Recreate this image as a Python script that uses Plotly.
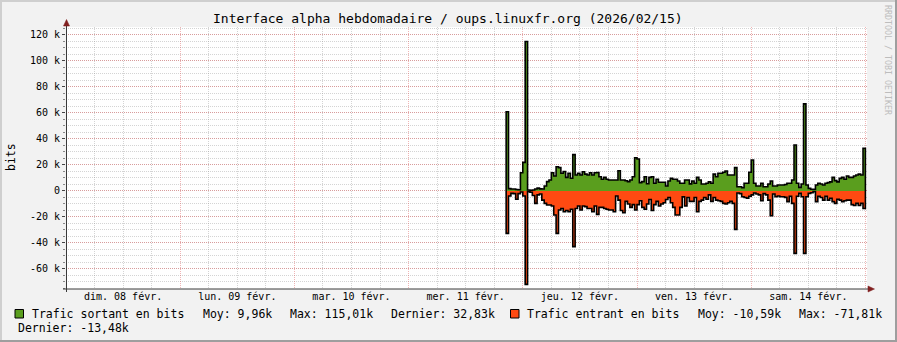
import plotly.graph_objects as go
from datetime import datetime, timedelta

# ---------------- data ----------------
title_text = "Interface alpha hebdomadaire / oups.linuxfr.org (2026/02/15)"
day_labels = ["dim. 08 févr.", "lun. 09 févr.", "mar. 10 févr.", "mer. 11 févr.",
              "jeu. 12 févr.", "ven. 13 févr.", "sam. 14 févr."]
y_tick_vals = [-60000, -40000, -20000, 0, 20000, 40000, 60000, 80000, 100000, 120000]
y_tick_text = ["-60 k", "-40 k", "-20 k", "0", "20 k", "40 k", "60 k", "80 k", "100 k", "120 k"]

series_start = datetime(2026, 2, 11, 20, 30)
step_minutes = 30

# outgoing traffic (k bits), 30 min samples
out_k = [61, 1.8, 1.5, 1.5, 1.2, 1.0, 14, 22, 115.01, 0.8,
         0.6, 0.8, 1.5, 2.2, 1.6, 1.5, 3.8, 7.2, 8.5, 14,
         11.5, 18.7, 18, 13.6, 15, 10.5, 13.6, 9.8, 28, 12.3,
         13.6, 12.3, 14.8, 13, 12.3, 14, 12.3, 14, 14.2, 11,
         9, 10.5, 9, 8.5, 8.5, 8.5, 8.5, 15.6, 8.5, 8.5,
         7.9, 7.2, 8.5, 11, 25.6, 24.6, 6.4, 7.2, 11, 5.6,
         10.5, 11, 5.9, 9, 6.7, 6.7, 6.7, 3.8, 7.7, 9.7,
         9, 9, 7.7, 5.9, 5.9, 8.5, 8.5, 5.5, 7.7, 6,
         10.5, 8.5, 5.4, 5.4, 5.9, 7, 5.9, 13, 11, 13.6,
         13.6, 14.4, 15.4, 12.3, 12.3, 12.3, 18, 3.3, 3.3, 2.5,
         5.9, 5.9, 14.4, 23.8, 5.9, 3.8, 3.8, 5.9, 3.3, 3.3,
         5.4, 7.7, 3.8, 3.8, 4.6, 4.6, 4.6, 5, 5.9, 6,
         8.5, 35.4, 5.9, 2.8, 5.4, 67, 4.6, 2, 1.3, 1.3,
         4.6, 5.9, 5.4, 4.6, 5.9, 6.4, 7, 10.5, 8, 7,
         9.7, 10.5, 9, 11.5, 10.5, 10.5, 11.5, 12.3, 13, 12.3,
         32.83]

# incoming traffic (k bits, drawn negative)
in_k = [-32.6, -3.8, -1.8, -2, -6.4, -2, -0.8, -3.8, -71.81, -0.5,
        -1, -3.5, -9.5, -3, -2.3, -7, -9.5, -10.8, -10.8, -11.5,
        -18.5, -32.6, -14.6, -13.5, -16, -15, -16, -14, -42.8, -13.5,
        -11.5, -14.6, -11.5, -12, -13.5, -13.5, -16, -11.5, -18, -12.6,
        -12.6, -13.5, -14, -14.6, -14.6, -16, -3.8, -7, -15, -16.7,
        -8, -10, -12.6, -10.5, -14.6, -10.5, -7.5, -12.6, -14, -10,
        -6.5, -15, -10.5, -8, -11.5, -10, -9, -6.5, -5, -9,
        -12.6, -18.5, -18.5, -12.6, -4.5, -11.5, -5, -8, -8, -5,
        -16, -8, -7, -5, -6.4, -3, -8, -5, -7, -7.5,
        -8, -9.5, -10, -9, -8, -9.5, -29.5, -1.5, -2, -4.4,
        -5, -5.5, -4, -3, -1.5, -2.3, -3, -7.5, -2, -3,
        -7, -19, -2.3, -4.4, -3.8, -4.4, -4.4, -4.9, -8.2, -4,
        -9.5, -48, -4, -1.8, -4.4, -48, -4.4, -1.8, -1.3, -0.5,
        -8.2, -4, -5, -7, -4, -7, -5.6, -8.2, -9.5, -6.4,
        -7, -8.2, -7.5, -7, -7, -10.5, -11.2, -9.5, -11.2, -9.5,
        -13.48]

legend_out = ["Trafic sortant en bits", "Moy: 9,96k", "Max: 115,01k", "Dernier: 32,83k"]
legend_in = ["Trafic entrant en bits", "Moy: -10,59k", "Max: -71,81k", "Dernier: -13,48k"]

green = "#5A9E1E"
orange = "#FF4A12"

# ---------------- geometry ----------------
W, H = 897, 342
L, R, T, B = 66, 30, 27, 53
PW = W - L - R
PH = H - T - B


def px(x):
    return (x - L) / PW


def py(y):
    return (H - B - y) / PH


x_start = datetime(2026, 2, 8)
x_end = x_start + timedelta(days=PW / 114.2)
y_min, y_max = -75400, 126150


def step_xy(vals):
    n = len(vals)
    times = [series_start + timedelta(minutes=step_minutes * i) for i in range(n)]
    t_end = series_start + timedelta(minutes=step_minutes * n)
    xs = [times[0]] + times + [t_end, t_end]
    ys = [0] + [v * 1000 for v in vals] + [vals[-1] * 1000, 0]
    return xs, ys


fig = go.Figure()
for vals, col, name, xa in [(out_k, green, legend_out[0], "x"), (in_k, orange, legend_in[0], "x2")]:
    xs, ys = step_xy(vals)
    fig.add_trace(go.Scatter(x=xs, y=ys, xaxis=xa, yaxis="y", mode="lines",
                             line=dict(shape="hv", color="black", width=1.6),
                             fill="tozeroy", fillcolor=col, name=name, showlegend=False, hoverinfo="skip"))

MONO = "DejaVu Sans Mono"
major_grid = "rgba(222,79,79,0.42)"
minor_grid = "rgba(143,143,143,0.38)"
noon_ticks = [x_start + timedelta(days=d, hours=12) for d in range(len(day_labels))]

fig.update_layout(
    width=W, height=H,
    margin=dict(l=L, r=R, t=T, b=B, pad=0),
    paper_bgcolor="#F2F2F2",
    plot_bgcolor="#FFFFFF",
    showlegend=False,
    font=dict(family=MONO, size=10, color="#000000"),
    xaxis=dict(
        type="date", range=[x_start, x_end], tick0=x_start, dtick=86400000,
        showgrid=True, gridcolor=major_grid, griddash="1px,1px", gridwidth=1,
        showticklabels=False, ticks="", showline=False, zeroline=False,
        minor=dict(dtick=6 * 3600000, tick0=x_start, showgrid=True, gridcolor=minor_grid,
                   griddash="1px,1px", gridwidth=1, ticks=""),
        fixedrange=True,
    ),
    xaxis2=dict(
        type="date", range=[x_start, x_end], overlaying="x", anchor="y", side="bottom",
        tickmode="array", tickvals=noon_ticks, ticktext=day_labels,
        showgrid=False, ticks="", showline=False, zeroline=False,
        tickfont=dict(family=MONO, size=10, color="#000000"), fixedrange=True,
    ),
    yaxis=dict(
        range=[y_min, y_max], tickmode="array", tickvals=y_tick_vals, ticktext=y_tick_text,
        showgrid=True, gridcolor=major_grid, griddash="1px,1px", gridwidth=1,
        ticks="outside", ticklen=3, tickcolor="#444444", tickwidth=1,
        minor=dict(dtick=5000, tick0=0, showgrid=True, gridcolor=minor_grid, griddash="1px,1px",
                   gridwidth=1, ticks="outside", ticklen=2, tickcolor="#888888"),
        showline=False, zeroline=False,
        tickfont=dict(family=MONO, size=10, color="#000000"), fixedrange=True,
    ),
)

shapes = []


def rect(x0, y0, x1, y1, fill, line=None, lw=0):
    shapes.append(dict(type="rect", xref="paper", yref="paper", x0=px(x0), x1=px(x1), y0=py(y0), y1=py(y1),
                       fillcolor=fill, line=dict(color=line or fill, width=lw), layer="above"))


def seg(x0, y0, x1, y1, col, w=1):
    shapes.append(dict(type="line", xref="paper", yref="paper", x0=px(x0), x1=px(x1), y0=py(y0), y1=py(y1),
                       line=dict(color=col, width=w), layer="above"))


# frame (3D border)
rect(0, 0, W, 2, "#CFCFCF")
rect(0, 0, 2, H, "#CFCFCF")
rect(0, H - 2, W, H, "#9E9E9E")
rect(W - 2, 0, W, H, "#9E9E9E")

# axes
seg(66.5, 292, 66.5, 24, "#3A3A3A")
seg(63, 289, 869, 289, "#3A3A3A")
shapes.append(dict(type="path", xref="paper", yref="paper", layer="above",
                   path=f"M {px(63.5)} {py(26)} L {px(69.5)} {py(26)} L {px(66.5)} {py(19.5)} Z",
                   fillcolor="#801F1F", line=dict(color="#801F1F", width=0.5)))
shapes.append(dict(type="path", xref="paper", yref="paper", layer="above",
                   path=f"M {px(868)} {py(286)} L {px(868)} {py(292)} L {px(874.5)} {py(289)} Z",
                   fillcolor="#801F1F", line=dict(color="#801F1F", width=0.5)))

# legend swatches
rect(15, 309.5, 23.5, 318, green, "#000000", 1)
rect(510.5, 309.5, 519, 318, orange, "#000000", 1)

fig.update_layout(shapes=shapes)

ann = []


def text(x, y, s, size=11.5, color="#000000", xanchor="left", angle=0):
    ann.append(dict(x=px(x), y=py(y), xref="paper", yref="paper", text=s, showarrow=False,
                    xanchor=xanchor, yanchor="middle", textangle=angle,
                    font=dict(family=MONO, size=size, color=color)))


text(448, 19, title_text, size=13, xanchor="center")
text(11, 157, "bits", size=11.5, xanchor="center", angle=-90)
text(888, 60, "RRDTOOL / TOBI OETIKER", size=8.3, color="#BDBDBD", xanchor="center", angle=90)

# legend line 1
text(30, 314, legend_out[0])
text(201, 314, legend_out[1])
text(288, 314, legend_out[2])
text(389, 314, legend_out[3])
text(525, 314, legend_in[0])
text(696, 314, legend_in[1])
text(797, 314, legend_in[2])
# legend line 2
text(16, 328, legend_in[3])

fig.update_layout(annotations=ann)

fig.write_html("out.html", config={"displayModeBar": False, "staticPlot": True})
